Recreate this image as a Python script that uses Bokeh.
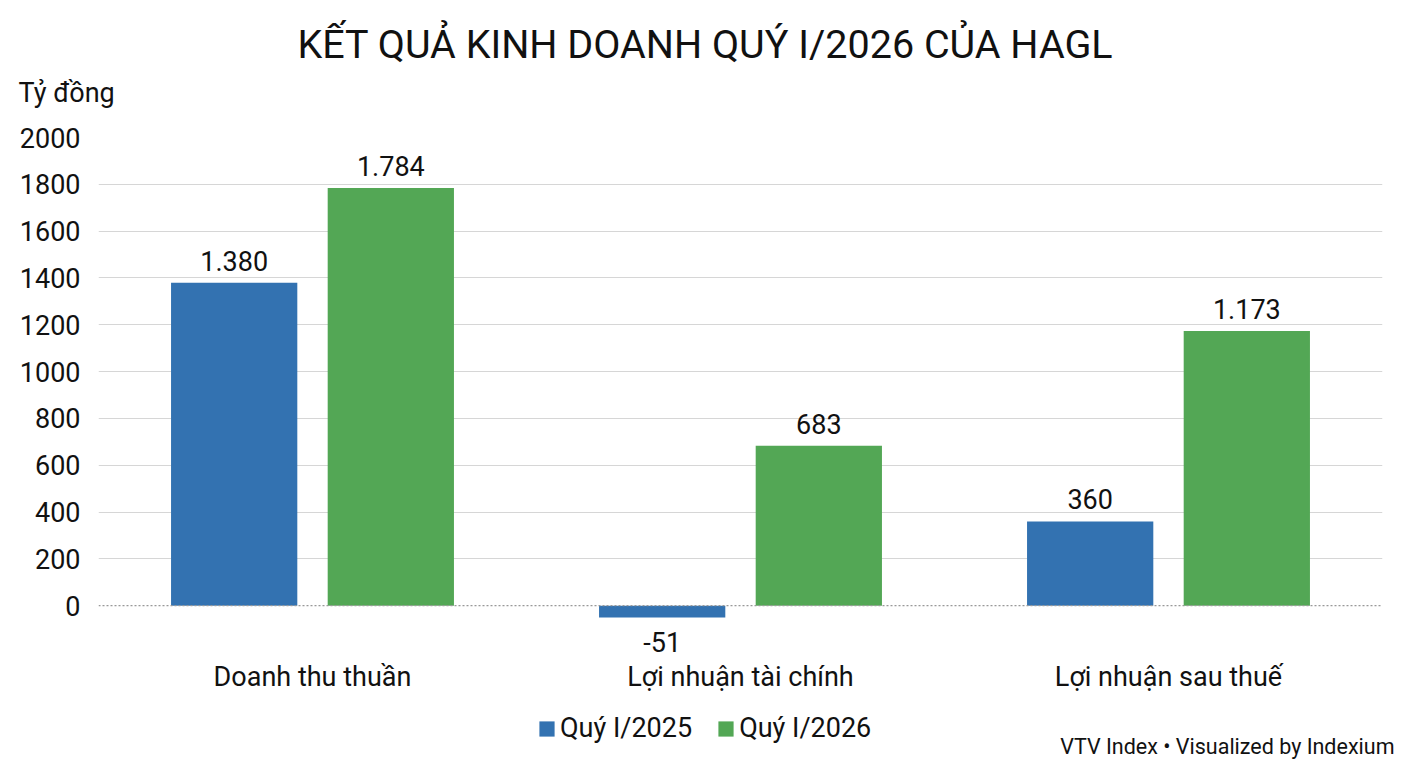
from bokeh.plotting import figure
from bokeh.layouts import column
from bokeh.models import (ColumnDataSource, FactorRange, FixedTicker, Span, Title,
                          Legend, LegendItem)
from bokeh.transform import dodge
from bokeh.core.properties import value
from bokeh.embed import file_html
from bokeh.resources import INLINE

categories = ["Doanh thu thuần", "Lợi nhuận tài chính", "Lợi nhuận sau thuế"]
series_names = ["Quý I/2025", "Quý I/2026"]
q2025 = [1380, -51, 360]
q2026 = [1784, 683, 1173]
y_ticks = [0, 200, 400, 600, 800, 1000, 1200, 1400, 1600, 1800, 2000]

BLUE = "#3372b1"
GREEN = "#53a755"
FONT = "Roboto"
INK = "#111111"


def fmt(v):
    s = f"{abs(v):,}".replace(",", ".")
    return ("-" if v < 0 else "") + s


src = ColumnDataSource(dict(
    cat=categories,
    a=q2025,
    b=q2026,
    a_lbl=[fmt(v) for v in q2025],
    b_lbl=[fmt(v) for v in q2026],
    a_off=[-12 if v >= 0 else 14 for v in q2025],
    a_base=["bottom" if v >= 0 else "top" for v in q2025],
))

xr = FactorRange(*categories, range_padding=0.0)

p = figure(x_range=xr, y_range=(-230, 2000),
           width=1400, height=700, frame_width=1284, frame_height=522,
           min_border_left=98, min_border_right=18, min_border_top=137, min_border_bottom=41,
           output_backend="svg", toolbar_location=None, outline_line_color=None)
p.title = None

off = 0.183
w = 0.295
p.vbar(x=dodge("cat", -off, range=xr), top="a", width=w, source=src,
       color=BLUE, line_color=None)
p.vbar(x=dodge("cat", off, range=xr), top="b", width=w, source=src,
       color=GREEN, line_color=None)

p.text(x=dodge("cat", -off, range=xr), y="a", text="a_lbl", source=src,
       text_align="center", text_baseline="a_base", y_offset="a_off",
       text_font=value(FONT), text_font_size="27px", text_color=INK)
p.text(x=dodge("cat", off, range=xr), y="b", text="b_lbl", source=src,
       text_align="center", text_baseline="bottom", y_offset=-12,
       text_font=value(FONT), text_font_size="27px", text_color=INK)

p.add_layout(Span(location=0, dimension="width", line_color="#999999",
                  line_dash="2 2", line_width=1.2))

p.yaxis.ticker = FixedTicker(ticks=y_ticks)
p.yaxis.axis_line_color = None
p.yaxis.major_tick_line_color = None
p.yaxis.minor_tick_line_color = None
p.yaxis.major_label_text_font = FONT
p.yaxis.major_label_text_font_size = "27px"
p.yaxis.major_label_text_color = INK
p.yaxis.major_label_standoff = 12

p.xaxis.axis_line_color = None
p.xaxis.major_tick_line_color = None
p.xaxis.minor_tick_line_color = None
p.xaxis.major_label_text_font = FONT
p.xaxis.major_label_text_font_size = "27px"
p.xaxis.major_label_text_color = INK
p.xaxis.major_label_standoff = -5

p.xgrid.grid_line_color = None
p.ygrid.ticker = FixedTicker(ticks=y_ticks[1:])
p.ygrid.grid_line_color = "#d6d6d6"
p.ygrid.grid_line_width = 1.2

# titles (above panel, first added is nearest the frame)
p.add_layout(Title(text="Tỷ đồng", align="left", offset=-80,
                   text_font=FONT, text_font_size="27px", text_font_style="normal",
                   text_color=INK, standoff=57), "above")
p.add_layout(Title(text="KẾT QUẢ KINH DOANH QUÝ I/2026 CỦA HAGL", align="left", offset=199,
                   text_font=FONT, text_font_size="39.5px", text_font_style="normal",
                   text_color=INK, standoff=-43), "above")

# ---------- footer: legend + credit ----------
bot = figure(x_range=xr, y_range=(0, 1), width=1400, height=60,
             frame_width=1284, frame_height=48,
             min_border_left=98, min_border_right=18, min_border_top=0, min_border_bottom=12,
             x_axis_type=None, y_axis_type=None,
             output_backend="svg", toolbar_location=None, outline_line_color=None)
bot.title = None
bot.xgrid.grid_line_color = None
bot.ygrid.grid_line_color = None
lr1 = bot.vbar(x="cat", top="a", width=w, source=src, color=BLUE, line_color=None, visible=False)
lr2 = bot.vbar(x="cat", top="b", width=w, source=src, color=GREEN, line_color=None, visible=False)
legend = Legend(items=[LegendItem(label=series_names[0], renderers=[lr1]),
                       LegendItem(label=series_names[1], renderers=[lr2])],
                orientation="horizontal", location=(439, 4),
                label_text_font=FONT, label_text_font_size="27px",
                label_text_color=INK, glyph_width=19, glyph_height=19,
                spacing=24, label_standoff=4, border_line_color=None,
                background_fill_alpha=0, padding=0, margin=0,
                inactive_fill_alpha=0, click_policy="none")
bot.add_layout(legend)
bot.add_layout(Title(text="VTV Index • Visualized by Indexium", align="right", offset=-12,
                     vertical_align="top",
                     text_font=FONT, text_font_size="21.5px", text_font_style="normal",
                     text_color=INK, standoff=-30), "below")

layout = column(p, bot, spacing=0)
open("out.html", "w").write(file_html(layout, INLINE))
